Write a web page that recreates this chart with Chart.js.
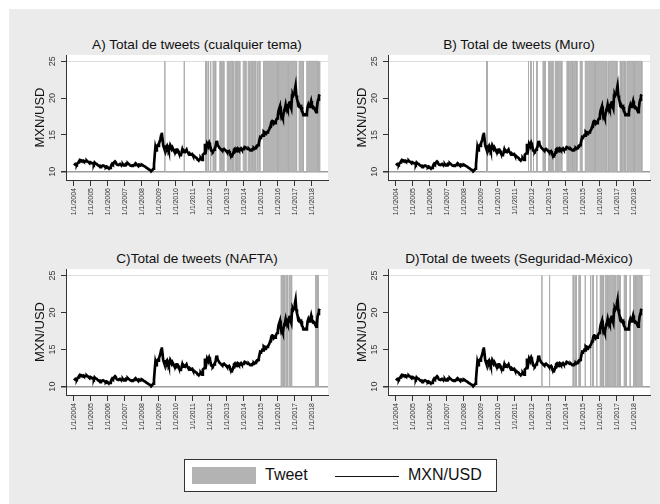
<!DOCTYPE html>
<html lang="es">
<head>
<meta charset="UTF-8">
<title>Tweets y tipo de cambio MXN/USD</title>
<script src="https://cdn.jsdelivr.net/npm/chart.js"></script>
<style>
  body { margin: 0; width: 660px; height: 504px; position: relative; overflow: hidden; background: #fff;
         font-family: "Liberation Sans", Arial, Helvetica, sans-serif; }
  #frame { position: absolute; left: 9px; top: 9px; right: 0; bottom: 0; background: #ebebeb; }
  canvas { position: absolute; }
  .ptitle { position: absolute; font-size: 13.6px; line-height: 16px; text-align: center; color: #111; white-space: nowrap; }
  #legend { position: absolute; left: 184px; top: 459px; width: 311px; height: 31px; background: #fff; border: 1px solid #333; }
  #legend .sw { position: absolute; left: 7px; top: 7px; width: 64px; height: 17px; background: #b3b3b3; }
  #legend .ln { position: absolute; left: 150px; top: 16px; width: 64px; height: 0; border-top: 1.5px solid #111; }
  #legend span { position: absolute; top: 6px; font-size: 16px; line-height: 18px; color: #111; }
</style>
</head>
<body>
<div id="frame"></div>

<div class="ptitle" style="left:66px;width:262px;top:37px">A) Total de tweets (cualquier tema)</div>
<div class="ptitle" style="left:388px;width:262px;top:37px">B) Total de tweets (Muro)</div>
<div class="ptitle" style="left:66px;width:262px;top:251px">C)Total de tweets (NAFTA)</div>
<div class="ptitle" style="left:388px;width:262px;top:251px">D)Total de tweets (Seguridad-México)</div>

<canvas id="cA" width="320" height="210" style="left:10px;top:30px"></canvas>
<canvas id="cB" width="320" height="210" style="left:332px;top:30px"></canvas>
<canvas id="cC" width="320" height="211" style="left:10px;top:244px"></canvas>
<canvas id="cD" width="320" height="211" style="left:332px;top:244px"></canvas>

<div id="legend">
  <div class="sw"></div><span style="left:80px">Tweet</span>
  <div class="ln"></div><span style="left:223px">MXN/USD</span>
</div>

<script>
// axis ticks
const yearTicks = [2004, 2005, 2006, 2007, 2008, 2009, 2010, 2011, 2012, 2013, 2014, 2015, 2016, 2017, 2018];
const yTicks = [10, 15, 20, 25];
const tweetOn = 25;    // value of the Tweet bars
const tweetBase = 10;  // bar base

// MXN/USD, two readings per month (1st and 15th)
const fx2004 = [10.85, 10.95, 11.05, 11.0, 10.95, 11.15, 11.25, 11.4, 11.55, 11.45, 11.4, 11.5, 11.45, 11.5, 11.4, 11.45, 11.45, 11.4, 11.5, 11.4, 11.35, 11.25, 11.2, 11.15];
const fx2005 = [11.25, 11.2, 11.15, 11.1, 11.0, 11.25, 11.15, 11.1, 11.05, 10.95, 10.85, 10.8, 10.75, 10.6, 10.75, 10.7, 10.8, 10.85, 10.8, 10.75, 10.65, 10.6, 10.7, 10.65];
const fx2006 = [10.55, 10.5, 10.45, 10.5, 10.7, 10.95, 11.1, 11.0, 11.1, 11.3, 11.4, 11.3, 11.05, 10.95, 10.95, 10.9, 11.0, 11.05, 10.95, 10.9, 10.95, 11.0, 10.85, 10.85];
const fx2007 = [10.95, 11.05, 10.95, 11.1, 11.15, 11.05, 10.98, 10.92, 10.82, 10.8, 10.78, 10.85, 10.85, 10.9, 11.05, 11.15, 11.05, 10.95, 10.85, 10.75, 10.95, 10.9, 10.92, 10.88];
const fx2008 = [10.95, 10.9, 10.8, 10.75, 10.75, 10.65, 10.55, 10.5, 10.45, 10.35, 10.3, 10.3, 10.2, 10.05, 10.05, 10.25, 10.4, 10.95, 12.2, 13.3, 12.9, 13.5, 13.6, 13.5];
const fx2009 = [13.8, 14.1, 14.4, 14.9, 15.3, 14.5, 13.6, 13.3, 13.2, 13.3, 13.4, 13.2, 13.5, 13.3, 12.9, 13.1, 13.6, 13.4, 13.1, 13.3, 13.1, 12.9, 12.8, 12.9];
const fx2010 = [12.8, 13.0, 13.0, 12.85, 12.6, 12.4, 12.25, 12.3, 12.6, 13.0, 12.7, 12.9, 12.8, 12.7, 12.7, 13.0, 12.7, 12.6, 12.4, 12.5, 12.3, 12.4, 12.35, 12.4];
const fx2011 = [12.2, 12.05, 12.1, 12.0, 11.95, 11.9, 11.75, 11.65, 11.65, 11.6, 11.75, 11.85, 11.7, 11.6, 12.3, 12.4, 12.5, 13.6, 13.6, 13.2, 13.8, 13.6, 13.7, 13.95];
const fx2012 = [13.7, 13.2, 12.85, 12.75, 12.7, 12.85, 13.0, 13.2, 13.4, 14.0, 14.2, 13.6, 13.5, 13.3, 13.2, 13.1, 13.0, 12.9, 12.85, 13.05, 13.1, 13.0, 12.9, 12.85];
const fx2013 = [12.7, 12.65, 12.75, 12.8, 12.55, 12.35, 12.2, 12.15, 12.25, 12.6, 13.0, 13.1, 12.75, 12.8, 13.1, 13.2, 13.1, 12.95, 13.05, 13.0, 13.15, 13.0, 13.0, 13.05];
const fx2014 = [13.2, 13.35, 13.3, 13.25, 13.2, 13.1, 13.05, 13.1, 13.0, 12.9, 12.95, 13.0, 12.95, 13.15, 13.2, 13.1, 13.2, 13.35, 13.5, 13.45, 13.6, 13.8, 14.3, 14.7];
const fx2015 = [14.65, 14.75, 14.95, 14.9, 15.4, 15.3, 15.1, 15.3, 15.25, 15.35, 15.5, 15.6, 15.8, 16.1, 16.4, 16.8, 16.9, 17.0, 16.5, 16.6, 16.6, 16.8, 17.1, 17.25];
const fx2016 = [17.7, 18.3, 18.6, 18.9, 17.9, 17.4, 17.6, 17.3, 17.9, 18.4, 18.6, 19.1, 18.6, 18.8, 18.5, 18.7, 19.3, 19.6, 18.9, 18.6, 20.4, 20.6, 20.4, 20.6];
const fx2017 = [21.2, 21.7, 20.4, 19.9, 19.5, 18.9, 18.8, 18.9, 18.7, 18.8, 18.2, 18.1, 17.7, 17.7, 17.8, 17.8, 17.7, 18.0, 18.8, 19.1, 18.8, 18.9, 19.2, 19.6];
const fx2018 = [19.1, 18.7, 18.6, 18.7, 18.6, 18.3, 18.1, 18.5, 19.4, 19.8, 20.3, 20.5];
const fxYears = [
  [2004, fx2004], [2005, fx2005], [2006, fx2006], [2007, fx2007], [2008, fx2008],
  [2009, fx2009], [2010, fx2010], [2011, fx2011], [2012, fx2012], [2013, fx2013],
  [2014, fx2014], [2015, fx2015], [2016, fx2016], [2017, fx2017], [2018, fx2018]
];

// days with tweets, as [from, to] in decimal years
const tweetsA = [
  [2009.35, 2009.35], [2010.49, 2010.49],
  [2011.74, 2011.78], [2011.88, 2011.92], [2012.02, 2012.06], [2012.18, 2012.34],
  [2012.58, 2012.66], [2012.72, 2012.82], [2013.02, 2013.12], [2013.18, 2013.37],
  [2013.47, 2013.56], [2013.62, 2013.76], [2013.96, 2014.12],
  [2014.25, 2014.33], [2014.40, 2014.52], [2014.58, 2014.70], [2014.78, 2014.82], [2014.88, 2014.94],
  [2015.16, 2016.0], [2016.03, 2016.6], [2016.63, 2017.1],
  [2017.25, 2017.5], [2017.7, 2018.37], [2018.45, 2018.47]
];
const tweetsB = [
  [2009.33, 2009.37],
  [2011.78, 2011.81], [2011.92, 2011.95], [2012.08, 2012.10], [2012.28, 2012.30],
  [2012.65, 2012.78], [2012.98, 2013.06], [2013.12, 2013.24],
  [2013.37, 2013.5], [2013.55, 2013.76],
  [2014.06, 2014.18], [2014.25, 2014.4], [2014.46, 2014.65], [2014.84, 2014.94],
  [2015.14, 2015.7], [2015.74, 2016.41], [2016.51, 2017.0],
  [2017.19, 2017.26], [2017.32, 2017.49], [2017.59, 2018.0], [2018.04, 2018.47]
];
const tweetsC = [
  [2016.19, 2016.25], [2016.33, 2016.41], [2016.5, 2016.58], [2016.68, 2016.81],
  [2018.22, 2018.37]
];
const tweetsD = [
  [2012.59, 2012.59], [2013.04, 2013.04],
  [2014.41, 2014.47], [2014.57, 2014.62], [2014.76, 2014.84],
  [2015.14, 2015.14], [2015.43, 2015.47], [2015.56, 2015.62], [2015.82, 2015.82],
  [2016.02, 2016.08], [2016.15, 2016.21], [2016.31, 2016.45], [2016.5, 2016.9],
  [2017.0, 2017.19], [2017.43, 2017.55], [2017.78, 2017.78],
  [2017.98, 2018.1], [2018.15, 2018.47]
];

const family = '"Liberation Sans", Arial, Helvetica, sans-serif';
const xMin = 2003.53, xMax = 2018.95;
const yMin = 8.87, yMax = 25.86;

const fxPoints = [];
fxYears.forEach(([yr, vals]) => {
  vals.forEach((v, i) => fxPoints.push({ x: yr + i / 24, y: v }));
});

// white plot region
const plotBg = {
  id: 'plotBg',
  beforeDraw(chart) {
    const { ctx, chartArea: a } = chart;
    ctx.save();
    ctx.fillStyle = '#fff';
    ctx.fillRect(a.left, a.top, a.width, a.height);
    ctx.restore();
  }
};

function makePanel(id, intervals) {
  const tweetPts = [];
  intervals.forEach(([s, e]) => {
    tweetPts.push({ x: s, y: tweetBase }, { x: s, y: tweetOn }, { x: e, y: tweetOn }, { x: e, y: tweetBase });
  });

  new Chart(document.getElementById(id), {
    type: 'line',
    data: {
      datasets: [
        { label: 'MXN/USD', data: fxPoints, borderColor: '#000', borderWidth: 2.7,
          pointRadius: 0, tension: 0, fill: false, order: 0 },
        { label: 'Tweet', data: tweetPts, borderColor: '#acacac', backgroundColor: '#b4b4b4',
          borderWidth: 1, pointRadius: 0, tension: 0, fill: { value: tweetBase }, order: 1 }
      ]
    },
    options: {
      responsive: false,
      animation: false,
      layout: { padding: { top: 25, right: 2, bottom: 0, left: 0 } },
      plugins: { legend: { display: false }, tooltip: { enabled: false } },
      scales: {
        x: {
          type: 'linear', min: xMin, max: xMax,
          afterBuildTicks: ax => { ax.ticks = yearTicks.map(v => ({ value: v })); },
          afterFit: ax => { ax.height = 60; },
          ticks: {
            autoSkip: false, minRotation: 90, maxRotation: 90, padding: 2,
            font: { size: 7, family }, color: '#333',
            callback: v => '1/1/' + v
          },
          grid: { drawOnChartArea: false, drawTicks: true, tickLength: 6, tickColor: '#333' },
          border: { display: true, color: '#333', width: 1 }
        },
        y: {
          min: yMin, max: yMax,
          afterBuildTicks: ax => { ax.ticks = yTicks.map(v => ({ value: v })); },
          afterFit: ax => { ax.width = 56; },
          ticks: {
            autoSkip: false, minRotation: 90, maxRotation: 90, crossAlign: 'center', padding: 3,
            font: { size: 9, family }, color: '#333'
          },
          grid: {
            color: c => c.tick && c.tick.value === 25 ? '#dedede' : (c.tick && c.tick.value === 10 ? '#9c9c9c' : 'rgba(0,0,0,0)'),
            lineWidth: c => c.tick && c.tick.value === 10 ? 1.5 : 1,
            tickColor: '#333', tickLength: 5
          },
          border: { display: true, color: '#333', width: 1 },
          title: {
            display: true, text: 'MXN/USD', color: '#111',
            font: { size: 13, family }, padding: { top: 23, bottom: 0 }
          }
        }
      }
    },
    plugins: [plotBg]
  });
}

makePanel('cA', tweetsA);
makePanel('cB', tweetsB);
makePanel('cC', tweetsC);
makePanel('cD', tweetsD);
</script>
</body>
</html>
